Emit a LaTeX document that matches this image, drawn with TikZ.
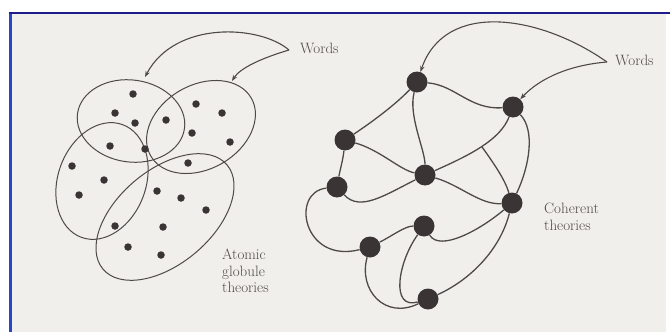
\documentclass[tikz,border=0pt]{standalone}
\usepackage{tikz}
\usetikzlibrary{arrows.meta}
\definecolor{paper}{RGB}{241,239,235}
\definecolor{ink}{RGB}{78,74,72}
\definecolor{blob}{RGB}{58,53,52}
\definecolor{frameblue}{RGB}{28,28,140}
\definecolor{edgeblue}{RGB}{40,70,200}
\tikzset{
    dot/.style={circle, fill=blob, inner sep=0pt, minimum size=7.5pt},
    hub/.style={circle, fill=blob, inner sep=0pt, minimum size=21pt},
    link/.style={draw=ink, line width=1.3pt},
    petal/.style={draw=ink, line width=1pt},
    pointer/.style={draw=ink, line width=1.1pt, -{Stealth[length=6pt, width=4.5pt]}},
    caption/.style={text=ink, font=\fontsize{15}{16.5}\selectfont, align=left, inner sep=0pt},
}
\begin{document}
\begin{tikzpicture}[x=1pt, y=-1pt]
\useasboundingbox (0,0) rectangle (670,332);

% Page and frame
\fill[white] (0,0) rectangle (670,332);
\fill[paper] (10,13) rectangle (666,332);
\draw[edgeblue, line width=3pt] (10,332) -- (10,13);
\draw[frameblue, line width=2.5pt] (8.5,13) -- (670,13);

% Atomic globules
\draw[petal, rotate around={-8:(131,121)}] (131,121) ellipse [x radius=54, y radius=41];
\draw[petal, rotate around={30:(201,127)}] (201,127) ellipse [x radius=58, y radius=42];
\draw[petal, rotate around={-20:(102,181)}] (102,181) ellipse [x radius=44, y radius=60];
\draw[petal, rotate around={40:(165,217)}] (165,217) ellipse [x radius=81, y radius=47];

\foreach \x/\y [count=\i] in {133/94, 115/113, 135/123, 166/120, 196/104, 222/113,
    192/133, 230/142, 110/146, 145/149, 188/163, 72/166, 104/180, 79/195,
    157/191, 181/198, 206/210, 115/226, 163/227, 128/247, 161/255}
    \node[dot] (d\i) at (\x,\y) {};

\node[caption, anchor=north west] (atomic) at (222,249) {Atomic\\globule\\theories};

% Left words
\node[caption, anchor=west] (wordsl) at (300,48) {Words};
\coordinate (tipl) at (289,50);
\coordinate (petaltop) at (145,77);
\coordinate (petalright) at (232,81);
\draw[pointer] (tipl) .. controls (260,25) and (175,20) .. (petaltop);
\draw[pointer] (tipl) .. controls (262,58) and (240,68) .. (petalright);

% Coherent network
\node[hub] (top) at (417,82) {};
\node[hub] (ur) at (513,107) {};
\node[hub] (ul) at (345,140) {};
\node[hub] (mid) at (425,175) {};
\node[hub] (ml) at (337,187) {};
\node[hub] (mr) at (512,203) {};
\node[hub] (lc) at (424,226) {};
\node[hub] (ll) at (370,247) {};
\node[hub] (bot) at (428,299) {};

\draw[link] (top) .. controls (395,105) and (372,122) .. (ul);
\draw[link] (top) .. controls (408,115) and (425,150) .. (mid);
\draw[link] (top) .. controls (455,85) and (470,110) .. (ur);
\draw[link] (ul) .. controls (380,150) and (400,170) .. (mid);
\draw[link] (ur) .. controls (500,140) and (470,155) .. coordinate[pos=0.5] (fork) (mid);
\draw[link] (fork) .. controls (495,165) and (505,180) .. (mr);
\draw[link] (ur) .. controls (535,130) and (530,165) .. (mr);
\draw[link] (ul) .. controls (343,160) and (340,170) .. (ml);
\draw[link] (ml) .. controls (360,212) and (385,195) .. (mid);
\draw[link] (mid) .. controls (460,185) and (480,205) .. (mr);
\draw[link] (ml) .. controls (290,192) and (303,264) .. (ll);
\draw[link] (ll) .. controls (392,236) and (405,226) .. (lc);
\draw[link] (lc) .. controls (440,252) and (480,230) .. (mr);
\draw[link] (lc) .. controls (398,262) and (390,310) .. (bot);
\draw[link] (ll) .. controls (358,290) and (385,320) .. (bot);
\draw[link] (mr) .. controls (500,250) and (470,280) .. (bot);

\node[caption, anchor=north west] (coherent) at (544,203) {Coherent\\theories};

% Right words
\node[caption, anchor=west] (wordsr) at (615,60) {Words};
\coordinate (tipr) at (607,62);
\draw[pointer] (tipr) .. controls (540,15) and (445,0) .. (top);
\draw[pointer] (tipr) .. controls (570,65) and (540,78) .. (ur);

\end{tikzpicture}
\end{document}
